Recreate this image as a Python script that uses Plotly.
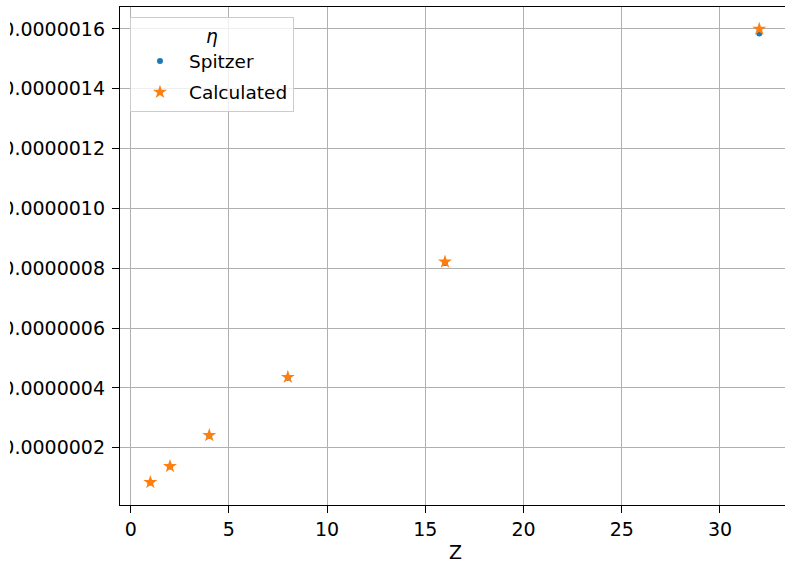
import plotly.graph_objects as go

Z = [1, 2, 4, 8, 16, 32]
spitzer = [8.40e-8, 1.375e-7, 2.405e-7, 4.34e-7, 8.18e-7, 1.585e-6]
calculated = [8.45e-8, 1.38e-7, 2.415e-7, 4.36e-7, 8.215e-7, 1.600e-6]
y_ticks = [2e-7, 4e-7, 6e-7, 8e-7, 1.0e-6, 1.2e-6, 1.4e-6, 1.6e-6]
x_ticks = [0, 5, 10, 15, 20, 25, 30]

FONT = "DejaVu Sans"
FS = 19
LFS = 18.5

fig = go.Figure()
fig.add_trace(go.Scatter(
    x=Z, y=spitzer, mode="markers", name="Spitzer", legendgroup="a",
    marker=dict(symbol="circle", size=6, color="#1f77b4", line=dict(width=0)),
))
fig.add_trace(go.Scatter(
    x=Z, y=calculated, mode="markers", name="Calculated", legendgroup="b",
    marker=dict(symbol="star", size=10.5, color="#ff7f0e", line=dict(width=0)),
))

fig.update_layout(
    width=785, height=561,
    margin=dict(l=120, r=0, t=7, b=56, autoexpand=False),
    paper_bgcolor="white", plot_bgcolor="white",
    font=dict(family=FONT, size=FS, color="black"),
    showlegend=True,
    legend=dict(
        title=dict(text="<i>η</i>", side="top center", font=dict(size=LFS)),
        x=0.015, y=0.979, xanchor="left", yanchor="top",
        bgcolor="rgba(255,255,255,0.8)", bordercolor="#cccccc", borderwidth=1,
        font=dict(size=LFS), tracegroupgap=4, traceorder="grouped",
        itemwidth=48,
    ),
    annotations=[dict(
        text="Z", xref="paper", yref="paper", x=(455 - 120) / 665, y=0,
        yshift=-47, xanchor="center", yanchor="middle", showarrow=False,
        font=dict(size=FS, family=FONT),
    )],
    shapes=[dict(
        type="rect", xref="paper", yref="paper", layer="above",
        x0=-0.2, x1=(10 - 120) / 665, y0=-0.2, y1=1.05,
        fillcolor="white", line=dict(width=0),
    )],
)

fig.update_xaxes(
    range=[-0.545, 33.31], tickvals=x_ticks, ticktext=[str(v) for v in x_ticks],
    showgrid=True, gridcolor="#b0b0b0", gridwidth=1.1,
    showline=True, linecolor="black", linewidth=1.3, mirror=True,
    ticks="outside", ticklen=7, tickwidth=1.2, tickcolor="black",
    zeroline=False, automargin=False,
)
fig.update_yaxes(
    range=[8.6e-9, 1.6735e-6], tickvals=y_ticks,
    ticktext=[f"{v:.7f}" for v in y_ticks],
    showgrid=True, gridcolor="#b0b0b0", gridwidth=1.1,
    showline=True, linecolor="black", linewidth=1.3, mirror=False,
    ticks="outside", ticklen=7, tickwidth=1.2, tickcolor="black",
    ticklabelstandoff=3,
    zeroline=False, automargin=False,
)

fig.write_html("out.html", config={"displayModeBar": False},
               post_script="document.body.style.margin='0';")
